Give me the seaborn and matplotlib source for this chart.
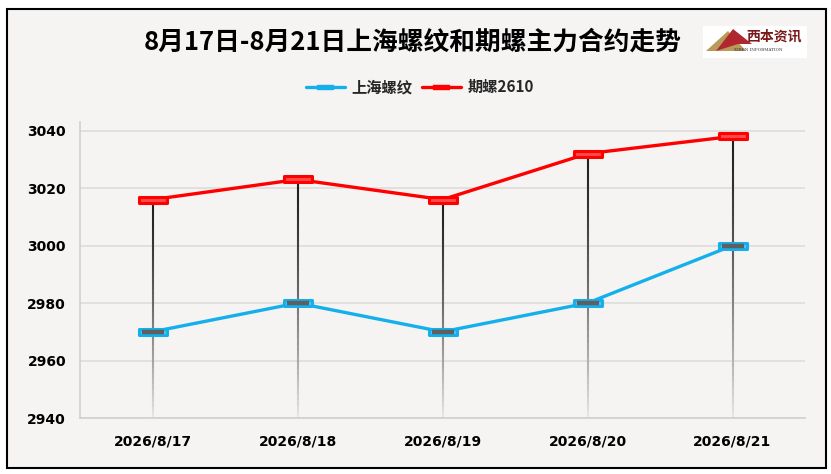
import matplotlib
matplotlib.use("Agg")
import matplotlib.pyplot as plt
import seaborn as sns
import numpy as np
import pandas as pd
from matplotlib.path import Path
from matplotlib.patches import Rectangle, Polygon
from matplotlib.collections import LineCollection
from matplotlib.lines import Line2D

# data
dates = ["2026/8/17", "2026/8/18", "2026/8/19", "2026/8/20", "2026/8/21"]
spot = [2970, 2980, 2970, 2980, 3000]       # 上海螺纹
futures = [3016, 3023, 3016, 3032, 3038]    # 期螺2610
yticks = [2940, 2960, 2980, 3000, 3020, 3040]
title = "8月17日-8月21日上海螺纹和期螺主力合约走势"
series_names = ["上海螺纹", "期螺2610"]

sns.set_theme(style="white")
plt.rcParams["font.family"] = ["Noto Sans CJK SC", "DejaVu Sans"]

PAPER = "#f6f4f3"
BLUE = "#15b0ec"
RED = "#ff0000"

fig = plt.figure(figsize=(8.31, 4.74), dpi=100, facecolor="white")
# paper background with black frame
fig.patches.append(Rectangle((7 / 831, 6 / 474), 819 / 831, 459 / 474,
                             transform=fig.transFigure, facecolor=PAPER,
                             edgecolor="black", linewidth=1.5, zorder=-5))

ax = fig.add_axes([80 / 831, 56 / 474, 725 / 831, 296 / 474])
ax.set_facecolor("none")
ax.set_zorder(10)

x = np.arange(len(dates))
df = pd.DataFrame({"x": np.concatenate([x, x]),
                   "value": spot + futures,
                   "series": [series_names[0]] * len(x) + [series_names[1]] * len(x)})

# rectangular marker
rect = Path([(-1, -0.25), (1, -0.25), (1, 0.25), (-1, 0.25), (-1, -0.25)],
            [Path.MOVETO, Path.LINETO, Path.LINETO, Path.LINETO, Path.CLOSEPOLY])

# drop lines from futures value down to axis bottom, fading
ymin = 2940
segs, cols = [], []
for xi, top in zip(x, futures):
    ys = np.linspace(top, ymin, 40)
    for k in range(len(ys) - 1):
        segs.append([(xi, ys[k]), (xi, ys[k + 1])])
        t = k / (len(ys) - 1)
        g = 0.12 + 0.8 * t ** 1.3
        cols.append((g, g, g, 1.0))
ax.add_collection(LineCollection(segs, colors=cols, linewidths=1.5, zorder=2))

sns.lineplot(data=df[df["series"] == series_names[0]], x="x", y="value", ax=ax,
             color=BLUE, linewidth=2.4, zorder=3, legend=False)
sns.lineplot(data=df[df["series"] == series_names[1]], x="x", y="value", ax=ax,
             color=RED, linewidth=2.4, zorder=3, legend=False)

ax.plot(x, spot, linestyle="none", marker=rect, markersize=20,
        markerfacecolor="#4fc3ef", markeredgecolor=BLUE, markeredgewidth=2.2, zorder=4)
ax.plot(x, spot, linestyle="none", marker="_", markersize=16,
        markeredgecolor="#5f5f5f", markeredgewidth=3.2, zorder=5)
ax.plot(x, futures, linestyle="none", marker=rect, markersize=20,
        markerfacecolor="#ff4a4a", markeredgecolor=RED, markeredgewidth=2.2, zorder=4)

ax.set_xlim(-0.5, len(dates) - 0.5)
ax.set_ylim(2940, 3043)
ax.set_yticks(yticks)
ax.set_xticks(x)
ax.set_xticklabels(dates)
ax.set_xlabel("")
ax.set_ylabel("")
ax.grid(axis="y", color="#dcdcdc", linewidth=1.2)
ax.grid(axis="x", visible=False)
for s in ["top", "right"]:
    ax.spines[s].set_visible(False)
for s in ["left", "bottom"]:
    ax.spines[s].set_color("#d0d0d0")
    ax.spines[s].set_linewidth(1.2)
ax.tick_params(axis="both", length=0, labelsize=10, colors="black")
ax.tick_params(axis="x", pad=12)
ax.tick_params(axis="y", pad=10)
for lab in ax.get_xticklabels() + ax.get_yticklabels():
    lab.set_fontweight("bold")
    lab.set_family(["DejaVu Sans"])

fig.text(0.497, 0.911, title, ha="center", va="center", fontsize=18.5,
         fontweight="bold", color="black")

# legend
handles = [Line2D([], [], color=BLUE, linewidth=2.4, marker=rect, markersize=12,
                  markerfacecolor=BLUE, markeredgecolor=BLUE),
           Line2D([], [], color=RED, linewidth=2.4, marker=rect, markersize=12,
                  markerfacecolor=RED, markeredgecolor=RED)]
fig.legend(handles, series_names, loc="center", bbox_to_anchor=(0.505, 0.816),
           ncol=2, frameon=False, handlelength=2.6,
           columnspacing=0.6, handletextpad=0.4,
           prop={"family": ["Noto Sans CJK SC"], "weight": "bold", "size": 11})

# logo
fig.patches.append(Rectangle((703 / 831, 416 / 474), 104 / 831, 32 / 474,
                             transform=fig.transFigure, facecolor="white",
                             edgecolor="none", zorder=1))
fig.patches.append(Polygon([(706 / 831, 423 / 474), (728 / 831, 443 / 474),
                            (746 / 831, 423 / 474)], closed=True,
                           transform=fig.transFigure, facecolor="#b99a5a",
                           edgecolor="none", zorder=2))
fig.patches.append(Polygon([(716 / 831, 423 / 474), (733 / 831, 445 / 474),
                            (752 / 831, 430 / 474), (738 / 831, 430 / 474)], closed=True,
                           transform=fig.transFigure, facecolor="#b0282e",
                           edgecolor="none", zorder=3))
fig.text(774 / 831, 438 / 474, "西本资讯", ha="center", va="center", fontsize=10,
         fontweight="bold", color="#7a1a1a", zorder=4)
fig.text(758 / 831, 424 / 474, "XIBEN INFORMATION", ha="center", va="center",
         fontsize=3, color="#333333", zorder=4, family=["DejaVu Serif"])

fig.savefig("out.png", dpi=100, facecolor="white")
